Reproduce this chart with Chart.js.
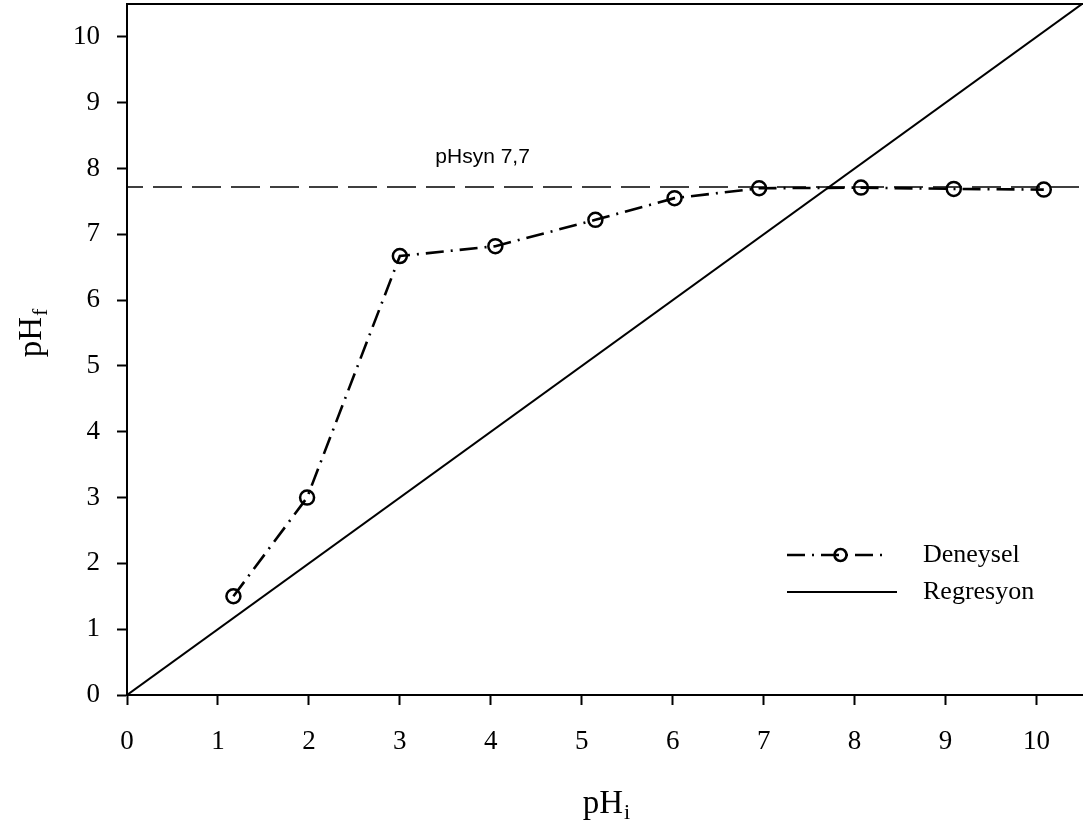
<!DOCTYPE html>
<html>
<head>
<meta charset="utf-8">
<script src="https://cdn.jsdelivr.net/npm/chart.js@4.4.0/dist/chart.umd.min.js"></script>
<style>
  html, body { margin: 0; padding: 0; background: #fff; }
  #wrap { width: 1083px; height: 823px; }
</style>
</head>
<body>
<div id="wrap"><canvas id="phChart" width="1083" height="823"></canvas></div>
<script>
// values
const phInitial = [1.17, 1.98, 3.00, 4.05, 5.15, 6.02, 6.95, 8.07, 9.09, 10.08];
const phFinal   = [1.50, 3.00, 6.67, 6.82, 7.22, 7.55, 7.70, 7.71, 7.69, 7.68];
const regX = [0, 10.5];
const regY = [0, 10.5];
const synValue = 7.72;
const synX = [0, 10.5];
const axisMin = 0;
const axisMax = 10.5;
const synLabel = 'pHsyn 7,7';
const synLabelAt = [3.39, 8.08];
const legendLabels = ['Deneysel', 'Regresyon'];

const SERIF = '"Liberation Serif", "Times New Roman", serif';
const SANS = '"Liberation Sans", Arial, sans-serif';
const DASHDOT = [18, 7, 2, 7];

Chart.defaults.color = '#000';

function toPoints(xs, ys) {
    return xs.map((x, i) => ({ x: x, y: ys[i] }));
}

// axis titles with subscripts, the pHsyn note, the legend and the top frame line
const extrasPlugin = {
    id: 'extras',
    afterDraw(chart) {
        const ctx = chart.ctx;
        const area = chart.chartArea;
        const xs = chart.scales.x;
        const ys = chart.scales.y;
        ctx.save();

        // top frame
        ctx.strokeStyle = '#000';
        ctx.lineWidth = 2;
        ctx.beginPath();
        ctx.moveTo(area.left - 1, area.top);
        ctx.lineTo(chart.width, area.top);
        ctx.stroke();

        // pHsyn note
        ctx.fillStyle = '#000';
        ctx.font = '21px ' + SANS;
        ctx.textAlign = 'left';
        ctx.textBaseline = 'alphabetic';
        ctx.fillText(synLabel, xs.getPixelForValue(synLabelAt[0]), ys.getPixelForValue(synLabelAt[1]));

        // x title pH_i
        const big = '33px ' + SERIF;
        const small = '22px ' + SERIF;
        ctx.font = big;
        const wMain = ctx.measureText('pH').width;
        ctx.font = small;
        const wSubI = ctx.measureText('i').width;
        const cx = (area.left + area.right) / 2 + 2;
        const startX = cx - (wMain + 1 + wSubI) / 2;
        ctx.font = big;
        ctx.fillText('pH', startX, 813);
        ctx.font = small;
        ctx.fillText('i', startX + wMain + 1, 819);

        // y title pH_f (rotated)
        ctx.font = small;
        const wSubF = ctx.measureText('f').width;
        const cy = 333;
        ctx.translate(41, cy + (wMain + 1 + wSubF) / 2);
        ctx.rotate(-Math.PI / 2);
        ctx.font = big;
        ctx.fillText('pH', 0, 0);
        ctx.font = small;
        ctx.fillText('f', wMain + 1, 6);
        ctx.setTransform(1, 0, 0, 1, 0, 0);

        // legend
        const lx0 = 787, lx1 = 888, lx2 = 897, textX = 923;
        const ly0 = 555, ly1 = 592;
        ctx.strokeStyle = '#000';
        ctx.lineWidth = 2.6;
        ctx.setLineDash(DASHDOT);
        ctx.beginPath();
        ctx.moveTo(lx0, ly0);
        ctx.lineTo(lx1, ly0);
        ctx.stroke();
        ctx.setLineDash([]);
        ctx.beginPath();
        ctx.arc((lx0 + lx1) / 2 + 3, ly0, 6, 0, Math.PI * 2);
        ctx.stroke();
        ctx.lineWidth = 2;
        ctx.beginPath();
        ctx.moveTo(lx0, ly1);
        ctx.lineTo(lx2, ly1);
        ctx.stroke();
        ctx.font = '26px ' + SERIF;
        ctx.textBaseline = 'middle';
        ctx.fillText(legendLabels[0], textX, ly0);
        ctx.fillText(legendLabels[1], textX, ly1);

        ctx.restore();
    }
};

function noScalePadding(scale) {
    scale.paddingTop = 0;
    scale.paddingBottom = 0;
    scale.paddingLeft = 0;
    scale.paddingRight = 0;
}

const axisCommon = {
    type: 'linear',
    min: axisMin,
    max: axisMax,
    border: { display: true, color: '#000', width: 2 },
    grid: { display: true, drawOnChartArea: false, drawTicks: true, tickLength: 10, tickWidth: 2, tickColor: '#000' },
    afterBuildTicks(scale) {
        scale.ticks = scale.ticks.filter(t => Number.isInteger(t.value));
    }
};

new Chart(document.getElementById('phChart'), {
    type: 'scatter',
    data: {
        datasets: [
            {
                label: legendLabels[1],
                data: toPoints(regX, regY),
                showLine: true,
                borderColor: '#000',
                borderWidth: 2,
                pointRadius: 0
            },
            {
                label: 'pHsyn',
                data: toPoints(synX, [synValue, synValue]),
                showLine: true,
                borderColor: '#000',
                borderWidth: 1.4,
                borderDash: [29, 10],
                borderDashOffset: 13,
                pointRadius: 0
            },
            {
                label: legendLabels[0],
                data: toPoints(phInitial, phFinal),
                showLine: true,
                borderColor: '#000',
                borderWidth: 2.6,
                borderDash: DASHDOT,
                pointRadius: 7,
                pointBorderWidth: 2.5,
                pointBorderColor: '#000',
                pointBackgroundColor: 'rgba(0,0,0,0)'
            }
        ]
    },
    options: {
        responsive: false,
        animation: false,
        devicePixelRatio: 1,
        layout: { autoPadding: false, padding: { top: 4, right: 1, left: 0, bottom: 0 } },
        plugins: {
            legend: { display: false },
            tooltip: { enabled: false }
        },
        scales: {
            x: Object.assign({}, axisCommon, {
                position: 'bottom',
                ticks: { stepSize: 1, includeBounds: false, padding: 21, maxRotation: 0, autoSkip: false, font: { family: SERIF, size: 27 } },
                afterFit(scale) { scale.height = 128; noScalePadding(scale); }
            }),
            y: Object.assign({}, axisCommon, {
                position: 'left',
                ticks: { stepSize: 1, includeBounds: false, padding: 17, autoSkip: false, font: { family: SERIF, size: 27 } },
                afterFit(scale) { scale.width = 127; noScalePadding(scale); }
            })
        }
    },
    plugins: [extrasPlugin]
});
</script>
</body>
</html>
